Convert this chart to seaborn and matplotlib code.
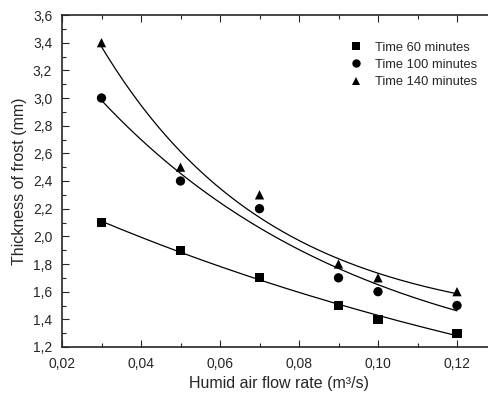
import numpy as np
import pandas as pd
import matplotlib
matplotlib.use("Agg")
import matplotlib.pyplot as plt
import seaborn as sns
from matplotlib.ticker import MultipleLocator, FuncFormatter

flow = [0.03, 0.05, 0.07, 0.09, 0.10, 0.12]
t60 = [2.1, 1.9, 1.7, 1.5, 1.4, 1.3]
t100 = [3.0, 2.4, 2.2, 1.7, 1.6, 1.5]
t140 = [3.4, 2.5, 2.3, 1.8, 1.7, 1.6]
labels = ["Time 60 minutes", "Time 100 minutes", "Time 140 minutes"]
markers = ["s", "o", "^"]

sns.set_style("ticks")
plt.rcParams['font.family'] = ['Liberation Sans', 'DejaVu Sans']

fig = plt.figure(figsize=(4.88, 3.96), dpi=100)
ax = fig.add_axes([62/488, 1-347/396, 434.5/488, 332/396])

rows = []
for lab, ys in zip(labels, [t60, t100, t140]):
    for x, y in zip(flow, ys):
        rows.append({"flow": x, "thick": y, "series": lab})
df = pd.DataFrame(rows)

sns.scatterplot(data=df, x="flow", y="thick", style="series", markers=dict(zip(labels, markers)),
                color="black", s=45, edgecolor="black", linewidth=0, ax=ax, legend=True, zorder=3)

xs = np.linspace(min(flow), max(flow), 200)
for ys in [t60, t100, t140]:
    x = np.array(flow); y = np.array(ys)
    best = None
    for y0 in np.linspace(0, min(y) - 0.01, 300):
        b, la = np.polyfit(x, np.log(y - y0), 1)
        pred = y0 + np.exp(la + b * x)
        err = np.sum((pred - y) ** 2)
        if best is None or err < best[0]:
            best = (err, y0, la, b)
    _, y0, la, b = best
    fit = pd.DataFrame({"x": xs, "y": y0 + np.exp(la + b * xs)})
    sns.lineplot(data=fit, x="x", y="y", color="black", linewidth=0.9, ax=ax, legend=False)

ax.set_xlim(0.02, 0.13)
ax.set_ylim(1.2, 3.6)
ax.xaxis.set_major_locator(MultipleLocator(0.02))
ax.xaxis.set_minor_locator(MultipleLocator(0.01))
ax.yaxis.set_major_locator(MultipleLocator(0.2))
ax.yaxis.set_minor_locator(MultipleLocator(0.1))
ax.xaxis.set_major_formatter(FuncFormatter(lambda v, p: f"{v:.2f}".replace(".", ",")))
ax.yaxis.set_major_formatter(FuncFormatter(lambda v, p: f"{v:.1f}".replace(".", ",")))
ax.tick_params(which="both", direction="in", top=True, right=True, labelsize=10, width=0.8)
ax.tick_params(which="major", length=5, pad=7)
ax.tick_params(which="minor", length=3)
for s in ax.spines.values():
    s.set_linewidth(1.2)
ax.set_xlabel("Humid air flow rate (m³/s)", fontsize=11.5, labelpad=4)
ax.set_ylabel("Thickness of frost (mm)", fontsize=11.5, labelpad=4)

h, l = ax.get_legend_handles_labels()
ax.legend(h, l, frameon=False, fontsize=9.3, loc="upper left", bbox_to_anchor=(0.62, 0.955),
          handletextpad=0.45, labelspacing=0.4, markerscale=0.9, title=None)

fig.savefig("out.png", dpi=100)
